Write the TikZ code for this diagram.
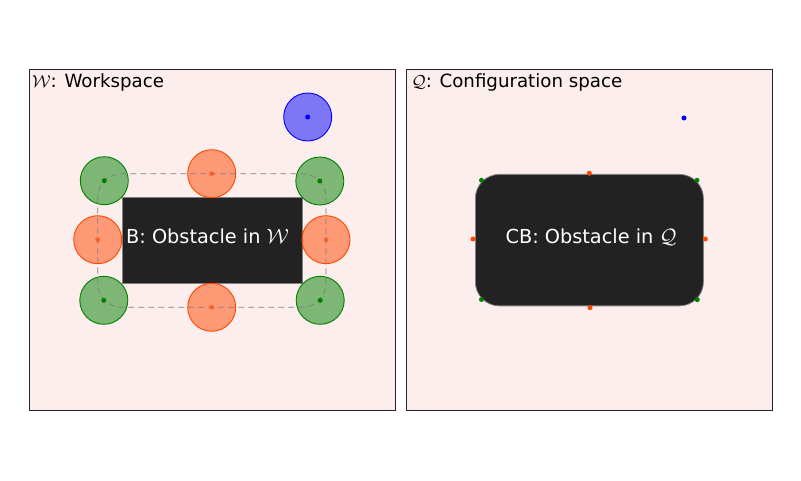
\documentclass[tikz,border=0pt]{standalone}
\usepackage{fontspec}
\setmainfont{DejaVu Sans}
\definecolor{panelbg}{RGB}{252,238,236}
\definecolor{obsfill}{RGB}{34,34,34}
\definecolor{ored}{RGB}{255,69,0}
\definecolor{dgreen}{RGB}{0,128,0}
\tikzset{
  panel/.style={draw=black!85, line width=0.9pt, fill=panelbg},
  obstacle/.style={draw=gray, line width=0.8pt, fill=obsfill, inner sep=0pt},
  robot/.style={circle, minimum size=48pt, inner sep=0pt, line width=0.9pt, fill opacity=0.5, draw opacity=1},
  gcirc/.style={robot, draw=dgreen, fill=dgreen},
  ocirc/.style={robot, draw=ored, fill=ored},
  bcirc/.style={robot, draw=blue, fill=blue},
  cdot/.style={circle, minimum size=5pt, inner sep=0pt},
  gdot/.style={cdot, fill=dgreen},
  odot/.style={cdot, fill=ored},
  odotfaint/.style={cdot, fill=ored, fill opacity=0.6},
  bdot/.style={cdot, fill=blue},
  dashpath/.style={draw=gray, line width=0.8pt, dash pattern=on 6pt off 4pt, rounded corners=24pt},
  lbl/.style={font=\fontsize{19.3}{23}\selectfont, inner sep=0pt, anchor=base},
  title/.style={font=\fontsize{18.2}{22}\selectfont, inner sep=0pt, anchor=base west, text=black}
}
\begin{document}
\begin{tikzpicture}[x=1pt,y=-1pt]
\useasboundingbox (0,0) rectangle (801,481);
% panels
\node[panel, minimum width=366.5pt, minimum height=341pt, inner sep=0pt, anchor=north west] (wpanel) at (28.7,69.3) {};
\node[panel, minimum width=366pt, minimum height=341pt, inner sep=0pt, anchor=north west] (qpanel) at (406,69.3) {};
\node[title] (wtitle) at (32,87.5) {$\mathcal{W}$: Workspace};
\node[title] (qtitle) at (411.5,87.5) {$\mathcal{Q}$: Configuration space};
% workspace obstacle
\node[obstacle, minimum width=179.5pt, minimum height=86.5pt, anchor=north west] (obsW) at (122,197) {};
\node[lbl, text=white] (obsWtext) at (207.5,244) {B: Obstacle in $\mathcal{W}$};
% robot circles
\node[gcirc] (g1) at (104.3,180.7) {};
\node[gcirc] (g2) at (319.8,181) {};
\node[gcirc] (g3) at (103.8,300.3) {};
\node[gcirc] (g4) at (320.2,300.3) {};
\node[ocirc] (o1) at (211.7,173.7) {};
\node[ocirc] (o2) at (97.7,239.7) {};
\node[ocirc] (o3) at (326,239.7) {};
\node[ocirc] (o4) at (211.7,307.3) {};
\node[bcirc] (b1) at (307.7,117) {};
% dashed boundary of the grown obstacle
\draw[dashpath] (97.7,173.7) rectangle (326,307.3);
% circle centres
\node[gdot] (gd1) at (g1) {};
\node[gdot] (gd2) at (g2) {};
\node[gdot] (gd3) at (g3) {};
\node[gdot] (gd4) at (g4) {};
\node[odotfaint] (od1) at (o1) {};
\node[odotfaint] (od2) at (o2) {};
\node[odotfaint] (od3) at (o3) {};
\node[odotfaint] (od4) at (o4) {};
\node[bdot] (bd1) at (b1) {};
% configuration-space obstacle
\node[obstacle, rounded corners=24pt, minimum width=228pt, minimum height=131.5pt, anchor=north west] (obsQ) at (475,174) {};
\node[lbl, text=white] (obsQtext) at (591,243.5) {CB: Obstacle in $\mathcal{Q}$};
\node[gdot] (qg1) at (481.5,180.3) {};
\node[gdot] (qg2) at (697,180.3) {};
\node[gdot] (qg3) at (481.5,299.5) {};
\node[gdot] (qg4) at (697.3,299.7) {};
\node[odot] (qo1) at (589.3,173.3) {};
\node[odot] (qo2) at (473,239) {};
\node[odot] (qo3) at (705.3,239) {};
\node[odot] (qo4) at (590,307.7) {};
\node[bdot] (qb1) at (684,118) {};
\end{tikzpicture}
\end{document}
